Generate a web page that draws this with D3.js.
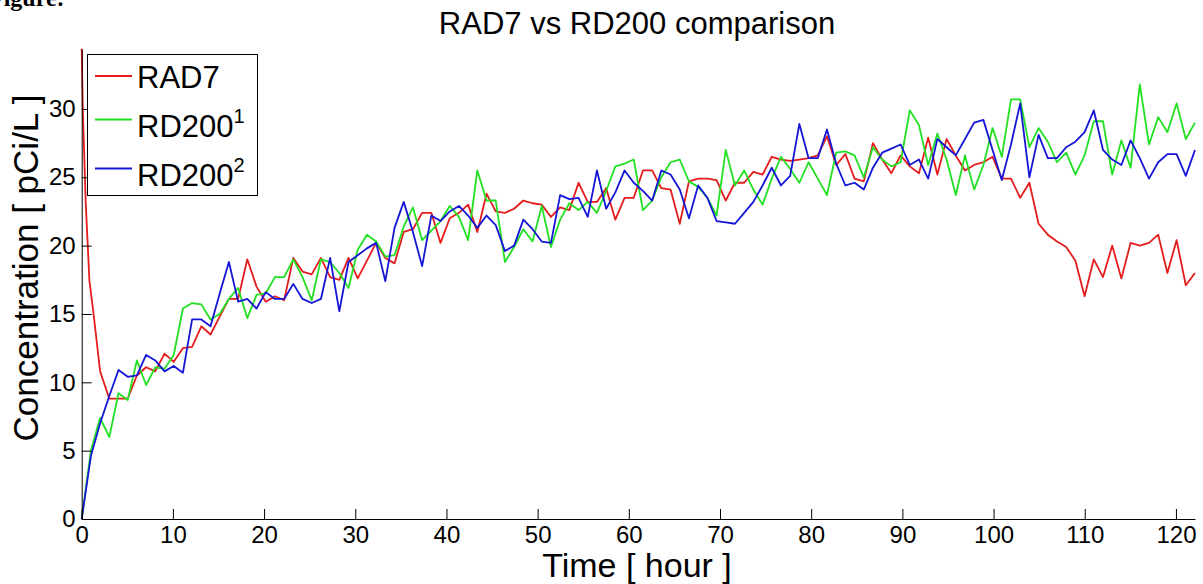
<!DOCTYPE html>
<html>
<head>
<meta charset="utf-8">
<script src="https://cdn.jsdelivr.net/npm/d3@7"></script>
<style>
body { margin: 0; background: #fff; }
svg { display: block; font-family: "Liberation Sans", Arial, sans-serif; }
</style>
</head>
<body>
<div id="chart"></div>
<script>
// logger interval in hours (readings are a bit longer than 1 h apart)
var sampleStep = 1.009;

// RD200 (1) readings, one per sample
var rd200a = [0,5.0,7.4,6.0,9.2,8.7,11.6,9.8,11.1,11.0,
	12.0,15.4,15.8,15.7,14.6,15.0,16.1,16.9,14.7,16.4,
	16.5,17.7,17.7,19.0,17.7,16.0,19.0,18.8,18.0,16.9,
	19.7,20.8,20.3,19.2,19.3,21.4,22.8,20.4,21.1,21.8,
	22.9,22.1,20.4,25.5,23.3,23.3,18.8,19.9,21.2,20.3,
	22.9,19.9,21.9,23.1,22.6,23.2,22.4,24.0,25.8,26.0,
	26.3,22.6,23.3,25.0,26.1,26.3,24.7,24.3,23.5,22.2,
	27.0,24.4,25.5,24.1,23.0,24.9,26.5,25.6,24.6,26.1,
	24.9,23.7,26.8,26.9,26.6,25.0,27.2,26.3,25.8,26.1,
	29.9,28.8,25.9,28.2,26.3,23.7,26.6,24.1,25.9,28.6,
	26.5,30.7,30.7,27.2,28.6,27.6,26.1,26.8,25.2,26.6,
	29.1,29.1,25.2,27.7,25.7,31.8,27.4,29.4,28.3,30.4,
	27.8,29.0];

// RD200 (2) readings
var rd200b = [0,4.6,7.0,9.0,10.9,10.4,10.5,12.0,11.6,10.8,
	11.2,10.7,14.6,14.6,14.1,16.5,18.8,15.9,16.1,15.4,
	16.6,16.1,16.1,17.2,16.1,15.8,16.1,19.1,15.2,18.8,
	19.3,19.8,20.2,17.4,21.3,23.2,21.0,18.5,22.2,21.8,
	22.5,22.9,22.2,21.3,22.2,21.5,19.6,20.0,21.9,21.2,
	20.3,20.2,23.7,23.4,23.5,22.1,25.5,22.7,23.9,25.5,
	24.6,24.0,23.3,25.5,25.2,24.1,22.0,24.4,23.5,21.8,
	21.7,21.6,22.4,23.2,24.4,25.7,24.4,25.1,28.9,26.4,
	26.4,28.5,26.0,24.4,24.6,24.1,25.7,26.8,27.1,27.4,
	25.9,26.3,24.9,27.8,27.2,26.6,27.8,29.0,29.2,27.0,
	24.8,27.4,30.4,25.0,28.1,26.4,26.4,27.2,27.6,28.3,
	29.9,27.0,26.3,25.9,27.7,26.4,24.9,26.1,26.7,26.7,
	25.1,27.0];

// RAD7: fast readings during the first two hours
var rad7LeadHours = [0, 0.12, 0.45, 0.85, 1.3, 2.02];
var rad7LeadValues = [34.4, 30.0, 23.0, 17.4, 15.0, 10.8];
// then one reading per sample from sample 3 on
var rad7FirstSample = 3;
var rad7 = [8.8,8.8,8.8,10.5,11.1,10.8,12.1,
	11.5,12.5,12.6,14.1,13.5,14.8,16.1,16.1,19.0,17.0,
	15.9,16.3,16.0,19.1,18.1,17.9,19.1,17.7,17.5,19.1,
	17.6,18.9,20.2,19.1,18.7,21.0,21.2,22.4,22.4,20.2,
	22.0,22.4,23.0,21.0,23.8,22.5,22.4,22.7,23.3,23.1,
	23.0,22.1,22.8,22.6,24.6,23.2,23.2,24.2,21.9,23.5,
	23.5,25.5,25.5,24.2,24.1,21.6,24.7,24.9,24.9,24.8,
	23.3,24.6,24.6,25.4,25.2,26.5,26.3,26.2,26.3,26.4,
	26.6,28.0,25.9,26.7,24.9,24.7,27.5,26.3,25.3,26.6,
	25.8,25.3,27.9,25.2,27.8,26.6,25.5,25.9,26.1,26.5,
	24.9,24.9,23.5,24.6,21.6,20.8,20.3,19.9,18.9,16.3,
	19.0,17.7,20.0,17.6,20.2,20.0,20.2,20.8,18.0,20.4,
	17.1,18.0];

var xTicks = [0,10,20,30,40,50,60,70,80,90,100,110,120];
var yTicks = [0,5,10,15,20,25,30];

var seriesNames = ["RAD7", "RD200", "RD200"];
var seriesSup = ["", "1", "2"];
var seriesColors = ["#e51c1c", "#22e022", "#1515d6"];

var width = 1203;
var height = 584;

var hours = d3.range(rd200a.length).map(function(i){ return i * sampleStep; });

var red = [];
rad7LeadHours.forEach(function(h, i){ red.push([h, rad7LeadValues[i]]); });
rad7.forEach(function(v, i){ red.push([hours[i + rad7FirstSample], v]); });
var green = rd200a.map(function(v, i){ return [hours[i], v]; });
var blue = rd200b.map(function(v, i){ return [hours[i], v]; });
var allSeries = [red, green, blue];

var xMax = hours[hours.length - 1];
var yMax = d3.max(rad7LeadValues);

var x = d3.scaleLinear()
			.domain([0, xMax])
			.range([81.7, 1195]);

var y = d3.scaleLinear()
			.domain([0, yMax])
			.range([519, 48.8]);

var svg = d3.select("#chart")
			.append("svg")
			.attr("width", width)
			.attr("height", height);

svg.append("rect").attr("width", width).attr("height", height).attr("fill", "#fff");

// caption of the page above, cut off by the top edge as in the scan
svg.append("text")
	.attr("x", -11)
	.attr("y", 6)
	.style("font-family", "'Liberation Serif', 'Times New Roman', serif")
	.style("font-weight", "bold")
	.style("font-size", "24px")
	.text("Figure:");

// lines
var line = d3.line()
	.x(function(d){ return x(d[0]); })
	.y(function(d){ return y(d[1]); })
	.curve(d3.curveLinear);

svg.selectAll("path.series")
	.data(allSeries)
	.enter().append("path")
	.attr("class", "series")
	.attr("fill", "none")
	.attr("stroke", function(d, i){ return seriesColors[i]; })
	.attr("stroke-width", 1.8)
	.attr("stroke-linejoin", "round")
	.attr("d", line);

// axes
var xAxis = d3.axisBottom(x).tickValues(xTicks).tickSize(-10).tickSizeOuter(0).tickPadding(7);
var yAxis = d3.axisLeft(y).tickValues(yTicks).tickSize(-10).tickSizeOuter(0).tickPadding(6);

var gx = svg.append("g")
	.attr("transform", "translate(0,519)")
	.call(xAxis);

var gy = svg.append("g")
	.attr("transform", "translate(81.7,0)")
	.call(yAxis);

[gx, gy].forEach(function(g){
	g.selectAll("text")
		.style("font-size", "24px")
		.style("font-family", "'Liberation Sans', Arial, sans-serif")
		.attr("fill", "#000");
	g.selectAll("line").attr("stroke", "#000");
	g.select(".domain").attr("stroke", "#000");
});

// title and axis labels
svg.append("text")
	.attr("x", 637)
	.attr("y", 34)
	.style("text-anchor", "middle")
	.style("font-size", "31px")
	.text("RAD7 vs RD200 comparison");

svg.append("text")
	.attr("x", 637)
	.attr("y", 577)
	.style("text-anchor", "middle")
	.style("font-size", "34px")
	.text("Time [ hour ]");

svg.append("text")
	.attr("transform", "translate(38,268) rotate(-90)")
	.style("text-anchor", "middle")
	.style("font-size", "35px")
	.text("Concentration [ pCi/L ]");

// legend
var legend = svg.append("g").attr("class", "legend");

legend.append("rect")
	.attr("x", 87.5)
	.attr("y", 54.5)
	.attr("width", 170)
	.attr("height", 141)
	.attr("fill", "#fff")
	.attr("stroke", "#000")
	.attr("stroke-width", 1);

seriesNames.forEach(function(name, i){
	var base = 87.5 + 49 * i;
	var ly = seriesSup[i] ? base - 17 : base - 11.5;
	legend.append("line")
		.attr("x1", 95).attr("x2", 132)
		.attr("y1", ly).attr("y2", ly)
		.attr("stroke", seriesColors[i])
		.attr("stroke-width", 1.8);
	var t = legend.append("text")
		.attr("x", 137)
		.attr("y", base)
		.style("font-size", "31px")
		.text(name);
	if(seriesSup[i]){
		t.append("tspan")
			.attr("dy", -14)
			.style("font-size", "20px")
			.text(seriesSup[i]);
	}
});
</script>
</body>
</html>
